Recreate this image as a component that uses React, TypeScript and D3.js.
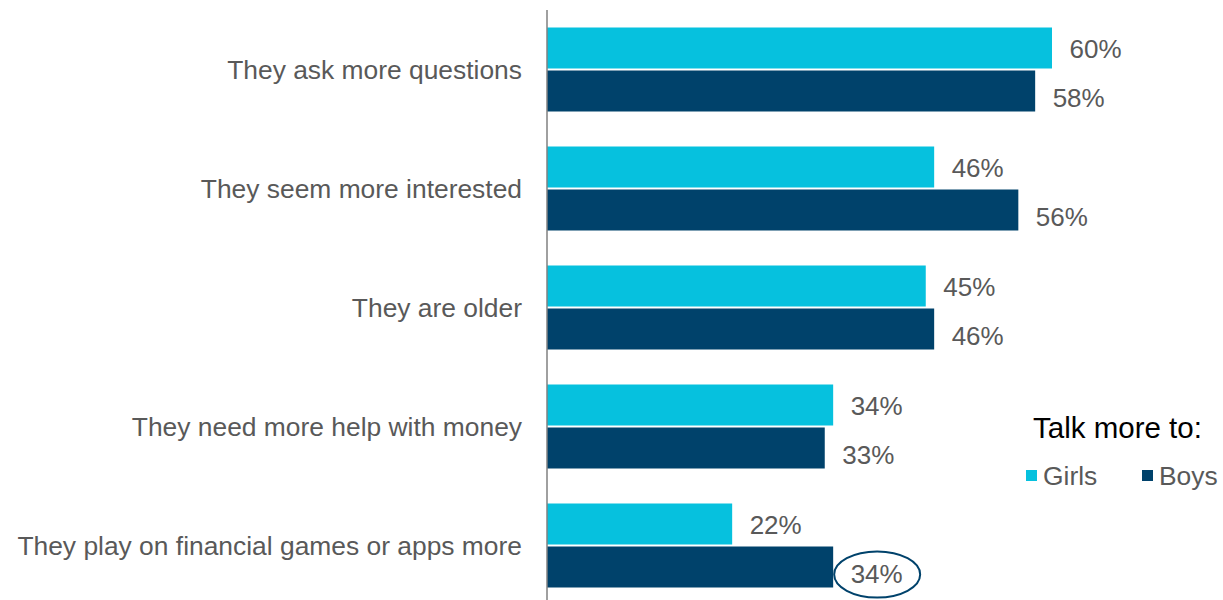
import React from "react";
import * as d3 from "d3";

const categories = [
  "They ask more questions",
  "They seem more interested",
  "They are older",
  "They need more help with money",
  "They play on financial games or apps more",
];
const series = ["Girls", "Boys"];
const girlsValues = [60, 46, 45, 34, 22];
const boysValues = [58, 56, 46, 33, 34];
const colors = ["#06C1DE", "#00426B"];
const legendTitle = "Talk more to:";
const highlighted = { category: 4, series: 1 };

const W = 1223;
const H = 600;
const FONT = "Arial, 'Liberation Sans', sans-serif";
const labelDy = [1, 6.5];

export default function App() {
  const x = d3.scaleLinear().domain([0, 60]).range([547, 1052]);
  const y = d3
    .scaleBand<string>()
    .domain(categories)
    .range([10, 605])
    .paddingInner(35 / 119)
    .paddingOuter(35 / 238);
  const sub = d3
    .scaleBand<string>()
    .domain(series)
    .range([0, y.bandwidth()])
    .paddingInner(2 / 43);
  const values = [girlsValues, boysValues];

  const hlCat = categories[highlighted.category];
  const hlVal = values[highlighted.series][highlighted.category];
  const hlY = (y(hlCat) as number) + (sub(series[highlighted.series]) as number) + sub.bandwidth() / 2;
  const hlX = x(hlVal) + 44;

  return (
    <svg
      width={W}
      height={H}
      style={{ position: "absolute", left: 0, top: 0, background: "#fff" }}
      fontFamily={FONT}
    >
      {categories.map((c, i) => {
        const y0 = y(c) as number;
        return (
          <g key={c}>
            <text
              x={522}
              y={y0 + y.bandwidth() / 2}
              textAnchor="end"
              dominantBaseline="central"
              fontSize={26.4}
              fill="#595959"
            >
              {c}
            </text>
            {series.map((s, j) => {
              const v = values[j][i];
              const by = y0 + (sub(s) as number);
              return (
                <g key={s}>
                  <rect
                    x={x(0)}
                    y={by}
                    width={x(v) - x(0)}
                    height={sub.bandwidth()}
                    fill={colors[j]}
                  />
                  <text
                    x={x(v) + 17.5}
                    y={by + sub.bandwidth() / 2 + labelDy[j]}
                    dominantBaseline="central"
                    fontSize={26}
                    fill="#595959"
                  >
                    {v}%
                  </text>
                </g>
              );
            })}
          </g>
        );
      })}
      <line x1={x(0)} x2={x(0)} y1={10} y2={H} stroke="#808080" strokeWidth={1.5} />
      <ellipse
        cx={hlX}
        cy={hlY + 7.5}
        rx={43}
        ry={23}
        fill="none"
        stroke={colors[1]}
        strokeWidth={2}
      />
      <g>
        <text x={1033} y={427} dominantBaseline="central" fontSize={29.5} fill="#000">
          {legendTitle}
        </text>
        {series.map((s, j) => {
          const lx = j === 0 ? 1026 : 1142;
          return (
            <g key={s}>
              <rect x={lx} y={470} width={11} height={11} fill={colors[j]} />
              <text x={lx + 17} y={476} dominantBaseline="central" fontSize={26.4} fill="#595959">
                {s}
              </text>
            </g>
          );
        })}
      </g>
    </svg>
  );
}
